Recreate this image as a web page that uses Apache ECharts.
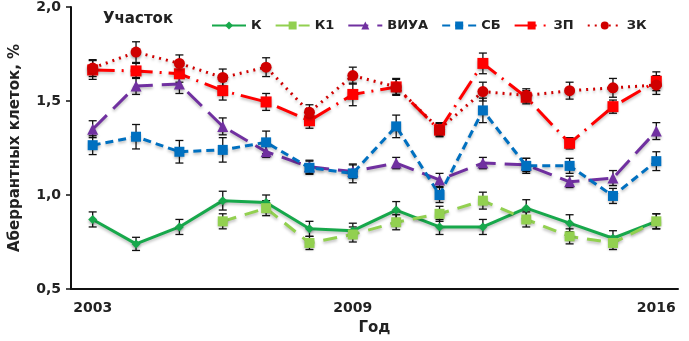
<!DOCTYPE html>
<html>
<head>
<meta charset="utf-8">
<script src="https://cdn.jsdelivr.net/npm/echarts@6/dist/echarts.min.js"></script>
<style>
  html, body { margin: 0; padding: 0; background: #fff; }
  #chart { width: 689px; height: 341px; }
</style>
</head>
<body>
<div id="chart"></div>
<script>
const years = ['2003', '2004', '2005', '2006', '2007', '2008', '2009', '2010', '2011', '2012', '2013', '2014', '2015', '2016']
const shownYears = ['2003', '2009', '2016']
const yTicks = [0.5, 1.0, 1.5, 2.0]

const valK = [0.87, 0.74, 0.83, 0.97, 0.96, 0.82, 0.81, 0.92, 0.83, 0.83, 0.93, 0.85, 0.77, 0.86]
const valK1 = [null, null, null, 0.86, 0.93, 0.745, 0.79, 0.855, 0.90, 0.97, 0.87, 0.78, 0.745, 0.86]
const valViua = [1.35, 1.58, 1.59, 1.365, 1.23, 1.15, 1.125, 1.17, 1.08, 1.17, 1.16, 1.07, 1.09, 1.34]
const valSb = [1.265, 1.31, 1.23, 1.24, 1.28, 1.145, 1.115, 1.365, 1.0, 1.45, 1.155, 1.155, 0.995, 1.18]
const valZp = [1.665, 1.66, 1.645, 1.555, 1.495, 1.395, 1.535, 1.575, 1.345, 1.70, 1.52, 1.275, 1.47, 1.605]
const valZk = [1.675, 1.76, 1.70, 1.625, 1.68, 1.44, 1.635, 1.575, 1.35, 1.55, 1.53, 1.555, 1.57, 1.585]

// half-widths of the error bars
const errK = [0.04, 0.035, 0.04, 0.05, 0.04, 0.04, 0.04, 0.045, 0.04, 0.04, 0.045, 0.045, 0.04, 0.04]
const errK1 = [null, null, null, 0.04, 0.04, 0.035, 0.04, 0.04, 0.04, 0.045, 0.04, 0.04, 0.035, 0.04]
const errViua = [0.045, 0.045, 0.05, 0.045, 0.03, 0.035, 0.035, 0.03, 0.035, 0.03, 0.035, 0.03, 0.04, 0.045]
const errSb = [0.05, 0.065, 0.06, 0.065, 0.06, 0.035, 0.05, 0.06, 0.04, 0.065, 0.04, 0.04, 0.04, 0.05]
const errZp = [0.05, 0.04, 0.045, 0.05, 0.045, 0.04, 0.06, 0.04, 0.035, 0.055, 0.035, 0.03, 0.035, 0.05]
const errZk = [0.045, 0.055, 0.045, 0.045, 0.05, 0.04, 0.045, 0.045, 0.035, 0.05, 0.035, 0.045, 0.05, 0.05]

const FONT = 'DejaVu Sans'

const lineDefs = [
  { name: 'К', data: valK, err: errK, color: '#17a84b', type: 'solid', symbol: 'diamond', size: 9 },
  { name: 'К1', data: valK1, err: errK1, color: '#92d050', type: [14, 9], symbol: 'rect', size: 10 },
  { name: 'ВИУА', data: valViua, err: errViua, color: '#7030a0', type: [20, 9], symbol: 'triangle', size: 11 },
  { name: 'СБ', data: valSb, err: errSb, color: '#0070c0', type: [8, 5], symbol: 'rect', size: 10 },
  { name: 'ЗП', data: valZp, err: errZp, color: '#ff0000', type: [22, 7, 2, 7], symbol: 'rect', size: 11 },
  { name: 'ЗК', data: valZk, err: errZk, color: '#d00000', type: [2, 5], symbol: 'circle', size: 11 }
]

// error bar rows: [categoryIndex, low, high]
const errRows = []
lineDefs.forEach(d => {
  d.data.forEach((v, i) => {
    if (v != null && d.err[i] != null) errRows.push([i, v - d.err[i], v + d.err[i]])
  })
})

const series = [
  {
    type: 'custom',
    name: 'err',
    z: 1,
    silent: true,
    renderItem(params, api) {
      const x = api.value(0)
      const lo = api.coord([x, api.value(1)])
      const hi = api.coord([x, api.value(2)])
      const w = 4
      const style = { stroke: '#111', lineWidth: 1.3 }
      return {
        type: 'group',
        children: [
          { type: 'line', shape: { x1: lo[0], y1: lo[1], x2: hi[0], y2: hi[1] }, style },
          { type: 'line', shape: { x1: lo[0] - w, y1: lo[1], x2: lo[0] + w, y2: lo[1] }, style },
          { type: 'line', shape: { x1: hi[0] - w, y1: hi[1], x2: hi[0] + w, y2: hi[1] }, style }
        ]
      }
    },
    encode: { x: 0, y: [1, 2] },
    data: errRows
  }
]

lineDefs.forEach(d => {
  series.push({
    name: d.name,
    type: 'line',
    z: 3,
    data: d.data,
    connectNulls: false,
    symbol: d.symbol,
    symbolSize: d.size,
    showAllSymbol: true,
    lineStyle: {
      color: d.color,
      width: 3,
      type: d.type,
      shadowColor: 'rgba(0,0,0,0.25)',
      shadowBlur: 3,
      shadowOffsetY: 2
    },
    itemStyle: {
      color: d.color,
      shadowColor: 'rgba(0,0,0,0.3)',
      shadowBlur: 3,
      shadowOffsetY: 2
    },
    emphasis: { disabled: true }
  })
})

const chart = echarts.init(document.getElementById('chart'))

chart.setOption({
  animation: false,
  backgroundColor: '#fff',
  grid: { left: 68, right: 11, top: 5, bottom: 48 },
  graphic: [
    {
      type: 'text',
      left: 103,
      top: 12,
      style: { text: 'Участок', font: 'bold 15px "DejaVu Sans"', fill: '#222' }
    }
  ],
  legend: {
    left: 206,
    top: 14,
    width: 480,
    itemWidth: 34,
    itemHeight: 10,
    itemGap: 13,
    data: lineDefs.map(d => d.name),
    textStyle: { fontFamily: FONT, fontWeight: 'bold', fontSize: 13, color: '#222' }
  },
  xAxis: {
    type: 'category',
    data: years,
    boundaryGap: true,
    name: 'Год',
    nameLocation: 'middle',
    nameGap: 32,
    nameTextStyle: { fontFamily: FONT, fontWeight: 'bold', fontSize: 15, color: '#222' },
    axisLine: { lineStyle: { color: '#111', width: 2 } },
    axisTick: { alignWithLabel: true, interval: 0, length: 4, lineStyle: { color: '#111', width: 1.5 } },
    axisLabel: {
      interval: (idx, val) => shownYears.includes(val),
      margin: 12,
      fontFamily: FONT,
      fontWeight: 'bold',
      fontSize: 14,
      color: '#222'
    },
    splitLine: { show: false }
  },
  yAxis: {
    type: 'value',
    min: yTicks[0],
    max: yTicks[yTicks.length - 1],
    interval: 0.5,
    name: 'Аберрантных клеток, %',
    nameLocation: 'middle',
    nameGap: 48,
    nameTextStyle: { fontFamily: FONT, fontWeight: 'bold', fontSize: 15, color: '#222' },
    axisLine: { show: true, lineStyle: { color: '#111', width: 2 } },
    axisTick: { show: true, length: 5, lineStyle: { color: '#111', width: 1.5 } },
    axisLabel: {
      margin: 10,
      fontFamily: FONT,
      fontWeight: 'bold',
      fontSize: 14,
      color: '#222',
      formatter: v => v.toFixed(1).replace('.', ',')
    },
    splitLine: { show: false }
  },
  series
})
</script>
</body>
</html>
